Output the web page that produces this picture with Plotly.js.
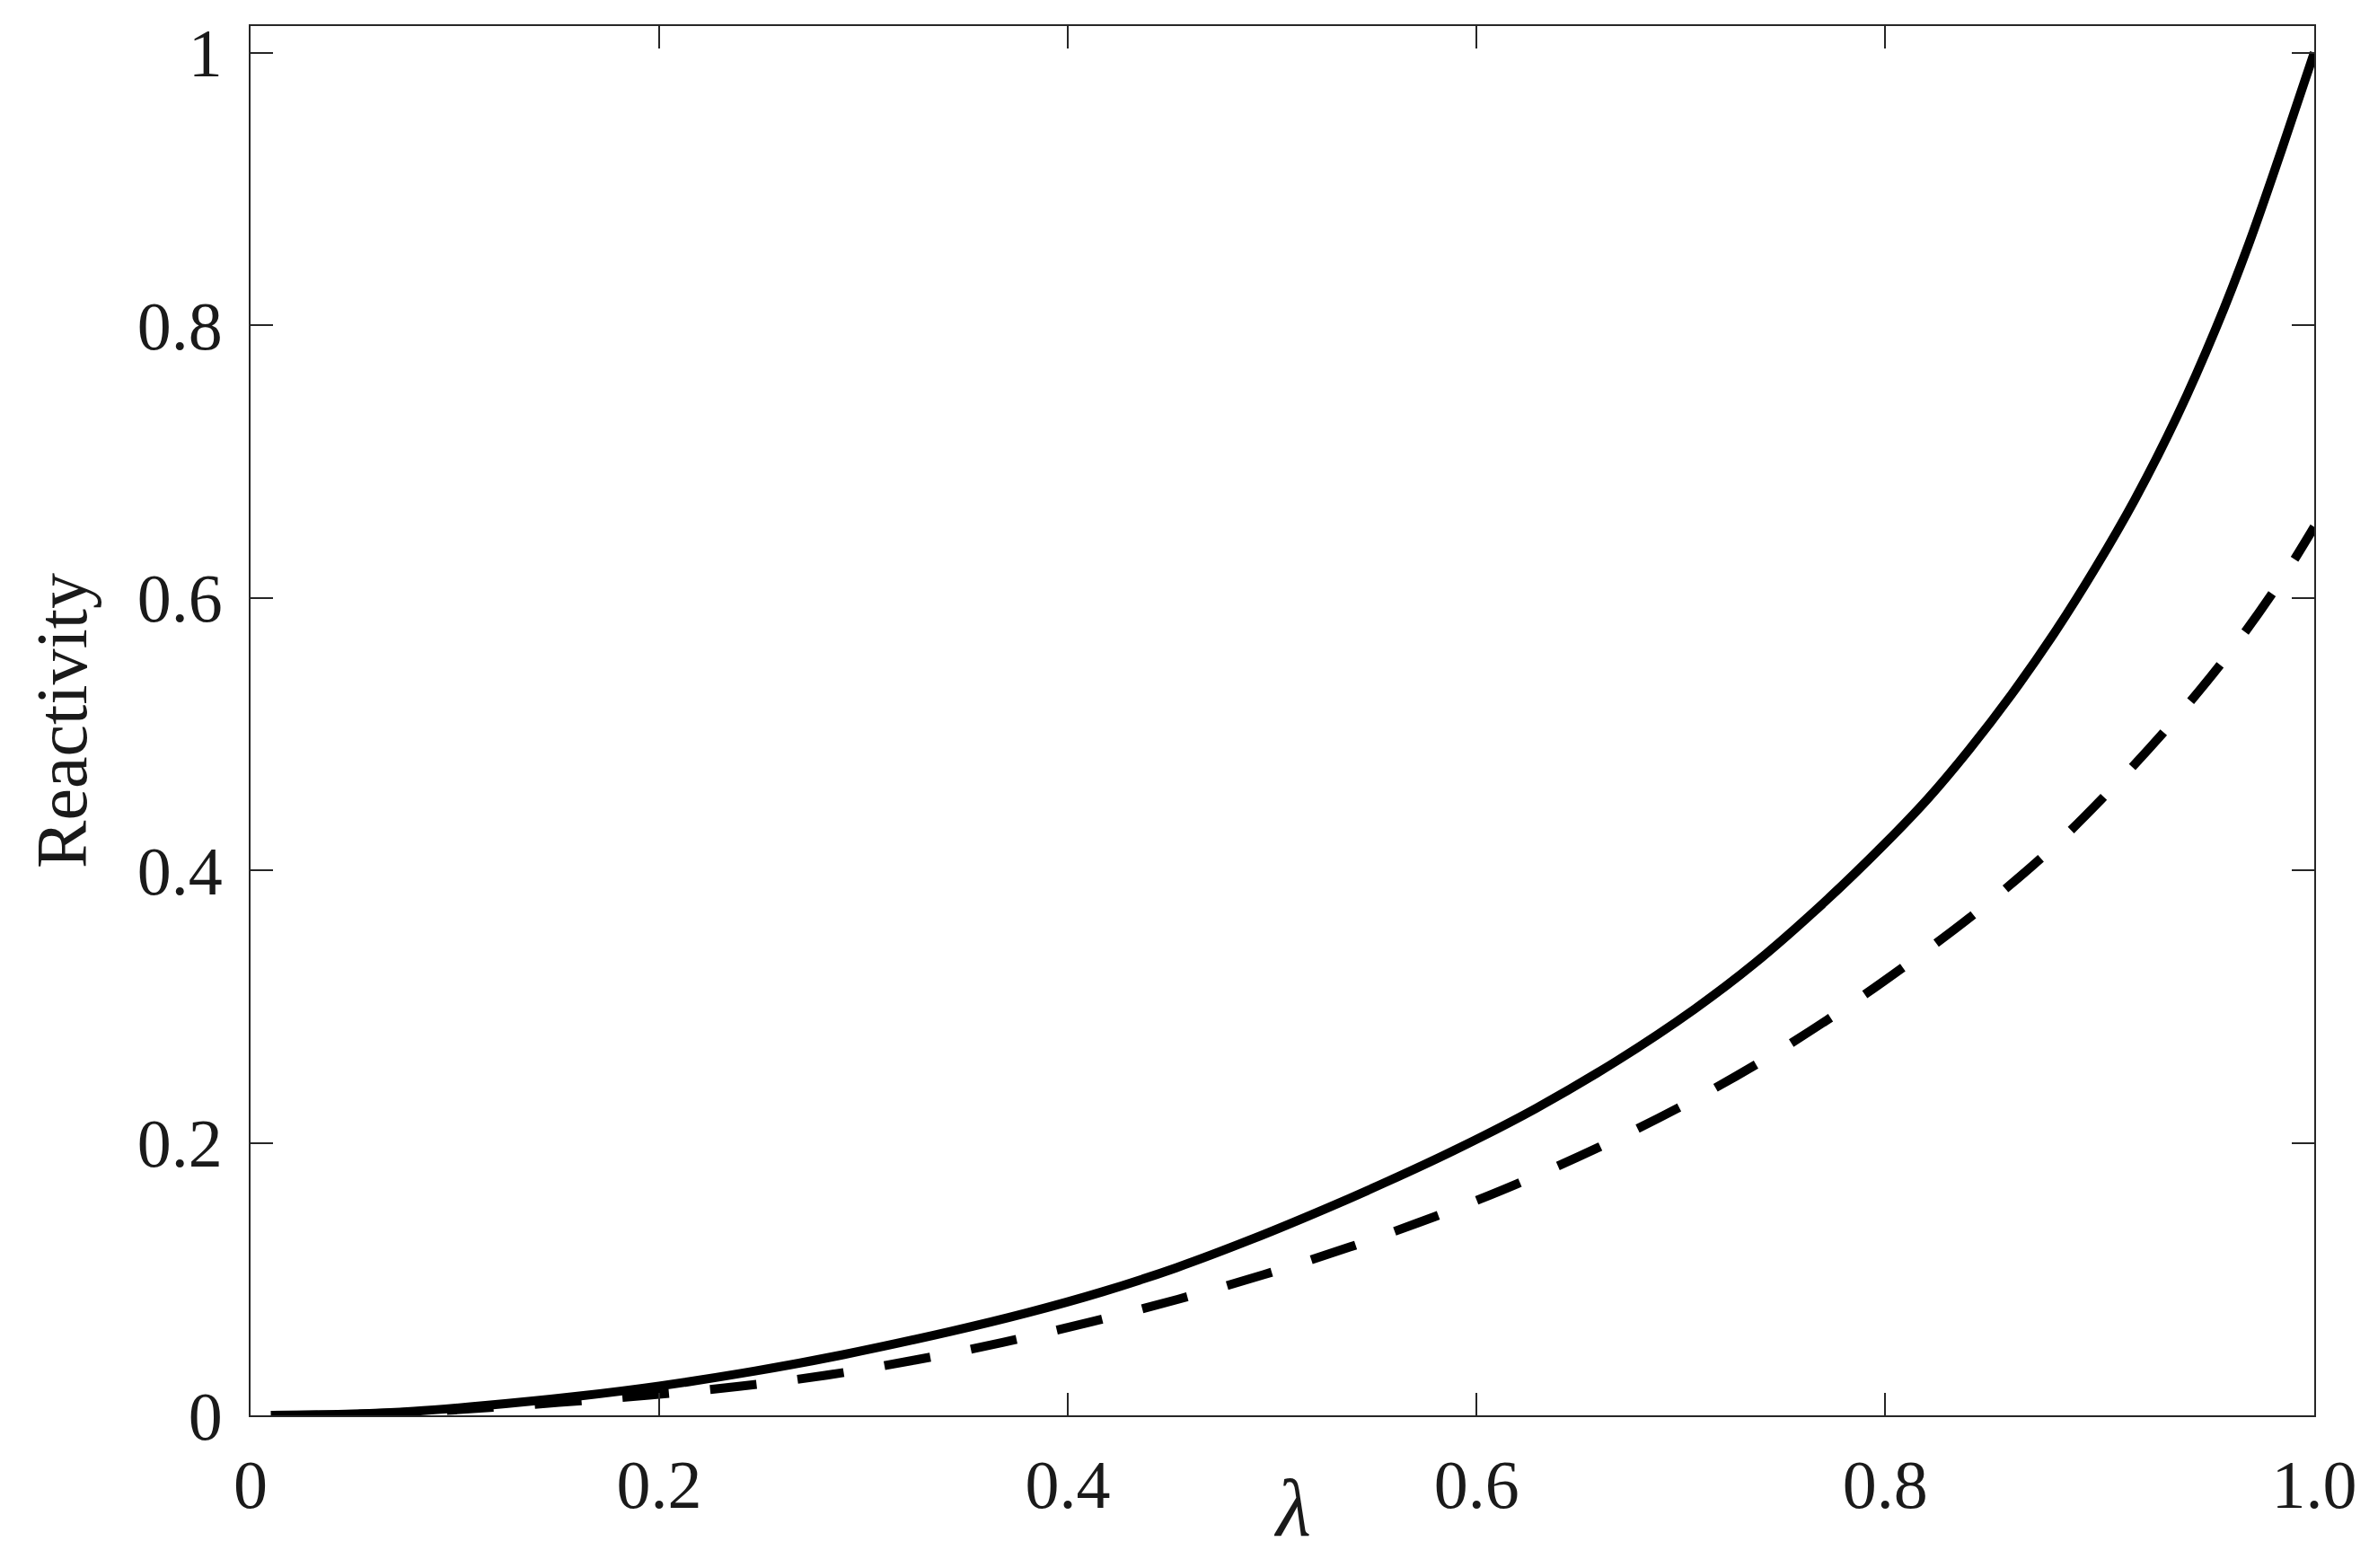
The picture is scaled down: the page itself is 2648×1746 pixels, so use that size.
<!DOCTYPE html>
<html>
<head>
<meta charset="utf-8">
<script src="https://cdn.plot.ly/plotly-3.0.1.min.js"></script>
<style>
  html, body { margin: 0; padding: 0; background: #fff; }
  #chart { width: 2648px; height: 1746px; }
</style>
</head>
<body>
<div id="chart"></div>
<script>
// values
let lambdaSolid = [0.01, 0.05, 0.08, 0.115, 0.159, 0.2, 0.247, 0.29, 0.343, 0.38, 0.417, 0.453, 0.49, 0.526, 0.556,
    0.589, 0.629, 0.669, 0.707, 0.736, 0.77, 0.8, 0.821, 0.841, 0.862, 0.883, 0.903, 0.922, 0.943, 0.962, 0.978, 0.994, 1.01];
let reactSolid = [0, 0.001, 0.003, 0.0072, 0.0138, 0.0215, 0.0325, 0.0445, 0.0617, 0.0752, 0.0907, 0.1083, 0.1292, 0.1515, 0.1713,
    0.1944, 0.2252, 0.2604, 0.2984, 0.3315, 0.3762, 0.4197, 0.4527, 0.4883, 0.5293, 0.5745, 0.6221, 0.6715, 0.7335, 0.7981, 0.8597, 0.9285, 1.0];

let lambdaDash = [0.01, 0.05, 0.1, 0.151, 0.195, 0.239, 0.282, 0.325, 0.368, 0.411, 0.454, 0.496, 0.538, 0.57,
    0.589, 0.62, 0.66, 0.699, 0.738, 0.775, 0.809, 0.845, 0.879, 0.91, 0.94, 0.968, 0.993, 1.01];
let reactDash = [0, 0.0007, 0.004, 0.0095, 0.0148, 0.0212, 0.0295, 0.0405, 0.0535, 0.0685, 0.0852, 0.1033, 0.1235, 0.1405,
    0.1512, 0.17, 0.1968, 0.2258, 0.2585, 0.2935, 0.329, 0.3695, 0.4125, 0.4585, 0.5075, 0.5585, 0.611, 0.652];

// the "1.0" label sits on the right frame, a bit past the regular 0.2 spacing
let xTickVals = [0, 0.2, 0.4, 0.6, 0.8, 1.01];
let xTickText = ['0', '0.2', '0.4', '0.6', '0.8', '1.0'];
let yTickVals = [0, 0.2, 0.4, 0.6, 0.8, 1];
let yTickText = ['0', '0.2', '0.4', '0.6', '0.8', '1'];

let serif = 'Liberation Serif, Times New Roman, serif';

let trace1 = {
    type: 'scatter',
    mode: 'lines',
    x: lambdaSolid,
    y: reactSolid,
    line: { color: '#000', width: 10, shape: 'spline', smoothing: 1 },
    hoverinfo: 'skip'
};

let trace2 = {
    type: 'scatter',
    mode: 'lines',
    x: lambdaDash,
    y: reactDash,
    line: { color: '#000', width: 10, dash: '52px,46px', shape: 'spline', smoothing: 1 },
    hoverinfo: 'skip'
};

let axisCommon = {
    showline: true,
    linecolor: '#262626',
    linewidth: 2,
    mirror: 'ticks',
    ticks: 'inside',
    ticklen: 25,
    tickwidth: 2,
    tickcolor: '#262626',
    showgrid: false,
    zeroline: false,
    tickfont: { family: serif, size: 76, color: '#1a1a1a' }
};

let layout = {
    width: 2648,
    height: 1746,
    margin: { l: 279, r: 71, t: 29, b: 170 },
    paper_bgcolor: '#fff',
    plot_bgcolor: '#fff',
    showlegend: false,
    xaxis: Object.assign({}, axisCommon, {
        range: [0, 1.01],
        tickmode: 'array',
        tickvals: xTickVals,
        ticktext: xTickText,
        ticklabelstandoff: 10
    }),
    yaxis: Object.assign({}, axisCommon, {
        range: [0, 1.0195],
        tickmode: 'array',
        tickvals: yTickVals,
        ticktext: yTickText,
        ticklabelstandoff: 14,
        title: { text: 'Reactivity', font: { family: serif, size: 80, color: '#1a1a1a' }, standoff: 30 }
    }),
    annotations: [{
        text: '<i>λ</i>',
        xref: 'paper', yref: 'paper',
        x: 0.505, y: -0.067,
        xanchor: 'center', yanchor: 'middle',
        showarrow: false,
        font: { family: serif, size: 90, color: '#1a1a1a' }
    }]
};

Plotly.newPlot('chart', [trace1, trace2], layout, { staticPlot: true, displayModeBar: false });
</script>
</body>
</html>
